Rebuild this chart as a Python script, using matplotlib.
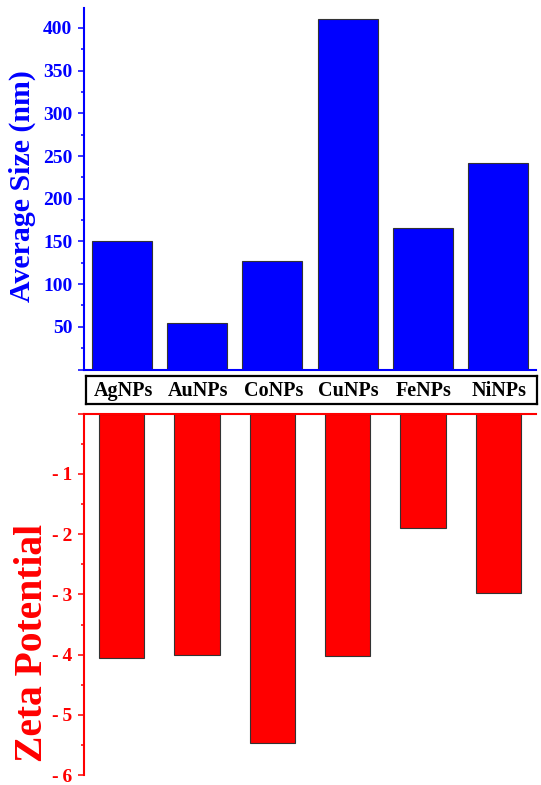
#!/usr/bin/env python
# -*- coding: utf-8 -*-

""" Average size and zeta potential of metal nanoparticles """

import matplotlib
matplotlib.use("Agg")
import matplotlib.pyplot as plt
from matplotlib.ticker import MultipleLocator, FuncFormatter


PARTICLES = ["AgNPs", "AuNPs", "CoNPs", "CuNPs", "FeNPs", "NiNPs"]
AVERAGE_SIZE = [150, 54, 127, 410, 166, 242]
ZETA_POTENTIAL = [-4.06, -4.01, -5.47, -4.02, -1.89, -2.97]

SIZE_TICKS = [0, 50, 100, 150, 200, 250, 300, 350, 400]
ZETA_TICKS = [0, -1, -2, -3, -4, -5, -6]

FONT = "Liberation Serif"
W, H = 541, 785


def style_axis(ax, color, spines):
    """ Origin-like spines and ticks in one colour """
    for name, spine in ax.spines.items():
        spine.set_visible(name in spines)
        spine.set_color(color)
        spine.set_linewidth(1.5)
    ax.tick_params(axis="y", which="major", direction="out", length=4.5,
                   width=1.1, color=color, labelcolor=color, pad=4,
                   labelsize=14)
    ax.tick_params(axis="y", which="minor", direction="out", length=2.3,
                   width=1.1, color=color)
    ax.tick_params(axis="x", which="both", length=0, labelbottom=False,
                   labeltop=False)
    for label in ax.get_yticklabels():
        label.set_fontfamily(FONT)
        label.set_fontweight("bold")


def main() -> None:
    fig = plt.figure(figsize=(W / 100, H / 100), dpi=100)
    x = range(len(PARTICLES))

    # Upper panel: average size
    ax1 = fig.add_axes([84 / W, 1 - 369.5 / H, 452 / W, 362 / H])
    ax1.bar(x, AVERAGE_SIZE, width=0.8, color="#0000ff",
            edgecolor="#333333", linewidth=0.8)
    ax1.set_xlim(-0.5, 5.5)
    ax1.set_ylim(0, 424)
    ax1.set_yticks(SIZE_TICKS)
    ax1.set_yticklabels(["" if t == 0 else str(t) for t in SIZE_TICKS])
    ax1.yaxis.set_minor_locator(MultipleLocator(25))
    style_axis(ax1, "#0000ff", ("left", "bottom"))
    fig.text(22.5 / W, 1 - 186 / H, "Average Size (nm)", rotation=90,
             ha="center", va="center", color="#0000ff", fontsize=21.5,
             fontfamily=FONT, fontweight="bold")

    # Category box between the panels
    axm = fig.add_axes([85.7 / W, 1 - 403.7 / H, 451 / W, 28 / H])
    axm.set_xlim(-0.5, 5.5)
    axm.set_ylim(0, 1)
    axm.set_xticks([])
    axm.set_yticks([])
    for spine in axm.spines.values():
        spine.set_linewidth(1.6)
        spine.set_color("black")
    for i, name in enumerate(PARTICLES):
        axm.text(i, 0.47, name, ha="center", va="center", fontsize=14.5,
                 fontfamily=FONT, fontweight="bold")

    # Lower panel: zeta potential
    ax2 = fig.add_axes([84 / W, 1 - 775 / H, 452 / W, 361.2 / H])
    ax2.bar(x, ZETA_POTENTIAL, width=0.6, color="#ff0000",
            edgecolor="#333333", linewidth=0.8)
    ax2.set_xlim(-0.5, 5.5)
    ax2.set_ylim(-6, 0)
    ax2.set_yticks(ZETA_TICKS)
    ax2.yaxis.set_major_formatter(FuncFormatter(
        lambda v, pos: "" if v == 0 else "-\u2009%d" % abs(v)))
    ax2.yaxis.set_minor_locator(MultipleLocator(0.5))
    style_axis(ax2, "#ff0000", ("left", "top"))
    fig.text(33 / W, 1 - 643 / H, "Zeta Potential", rotation=90,
             ha="center", va="center", color="#ff0000", fontsize=28.5,
             fontfamily=FONT, fontweight="bold")

    fig.savefig("out.png", dpi=100)


if __name__ == "__main__":
    main()
